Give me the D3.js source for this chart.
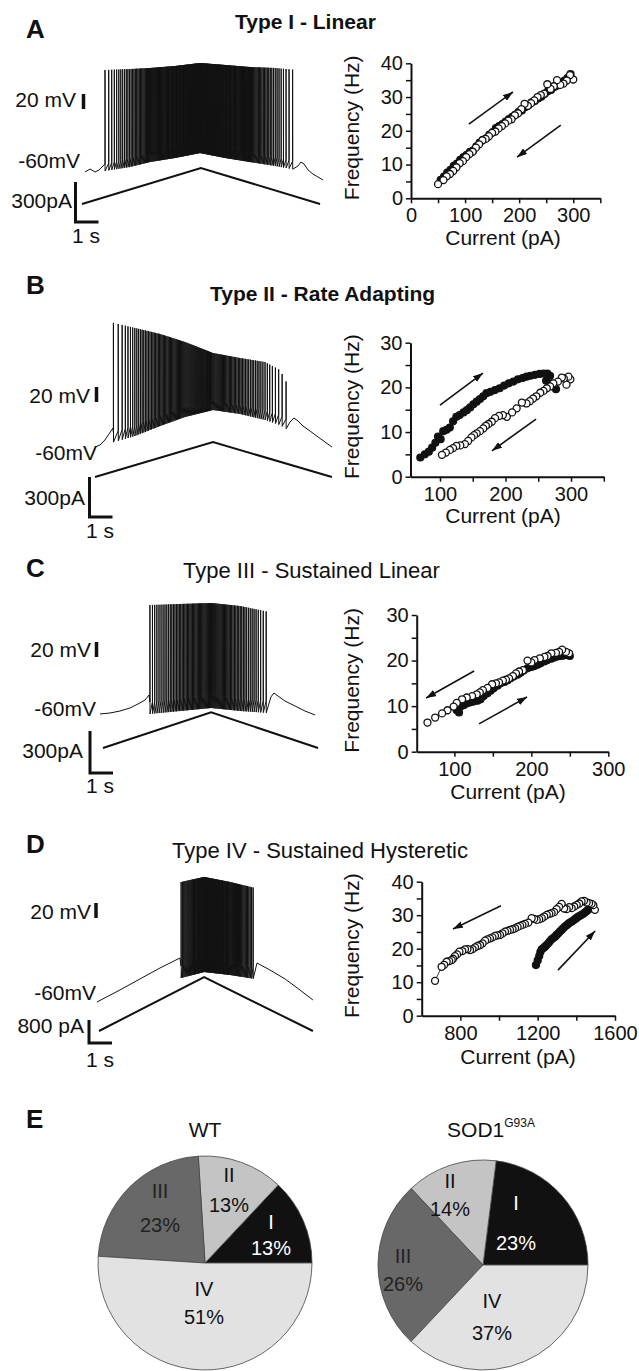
<!DOCTYPE html>
<html>
<head>
<meta charset="utf-8">
<script src="https://cdn.jsdelivr.net/npm/d3@7"></script>
<style>
body { margin: 0; background: #fff; }
svg { display: block; font-family: "Liberation Sans", Arial, sans-serif; }
</style>
</head>
<body>
<script>
var width = 639,
    height = 1371;

// F-I points [current pA, frequency Hz]; rise = ascending ramp (filled), fall = descending ramp (open)
var fiRiseA = [[55,5.5],[61,6.4],[67,7.6],[73,8.4],[79,9.6],[85,10.3],[91,11.4],[97,12.2],[103,12.9],[109,13.8],[115,14.2],[121,15.4],[127,16.5],[133,17.3],[139,17.8],[145,18.9],[151,19.6],[157,20.8],[163,21.4],[169,22.0],[175,22.7],[181,23.5],[187,24.1],[193,24.8],[199,25.6],[205,26.0],[211,27.0],[217,27.5],[223,28.4],[229,28.8],[235,29.6],[241,30.1],[247,30.9],[253,31.7],[259,32.1],[265,33.0],[271,33.4],[277,34.2],[283,34.8],[289,35.6],[295,36.8]];
var fiFallA = [[300,35.2],[294,36.5],[288,34.9],[282,34.0],[276,33.6],[270,35.0],[264,33.2],[258,32.4],[252,33.8],[246,31.0],[240,30.6],[234,30.0],[228,29.0],[222,28.2],[216,27.4],[210,28.0],[204,26.4],[198,25.2],[192,24.6],[186,23.4],[180,23.0],[174,22.2],[168,21.4],[162,20.7],[156,19.8],[150,19.4],[144,18.4],[138,17.6],[132,17.2],[126,16.0],[120,15.0],[114,13.8],[108,13.1],[102,12.2],[96,11.0],[90,10.4],[84,9.2],[78,8.1],[72,7.2],[66,6.5],[60,5.4],[50,4.2]];

var fiRiseB = [[70,4.3],[77,5.0],[83,5.6],[88,6.5],[93,7.6],[97,9.0],[101,8.4],[105,10.2],[110,10.5],[115,11.0],[120,12.4],[125,13.4],[130,13.8],[136,14.4],[141,14.9],[146,15.5],[151,16.2],[156,16.8],[161,17.4],[166,18.0],[171,18.7],[177,19.0],[184,19.4],[191,19.8],[198,20.4],[205,20.9],[212,21.3],[219,21.8],[226,22.1],[232,22.4],[238,22.6],[245,22.8],[252,23.0],[258,23.1],[264,23.1],[268,22.6],[262,21.5],[270,20.9],[274,20.3],[277,19.6]];
var fiFallB = [[299,21.8],[296,22.4],[293,20.6],[289,22.0],[286,22.2],[280,21.3],[273,20.9],[268,20.2],[263,19.8],[258,19.2],[253,18.8],[247,18.0],[242,17.5],[237,16.9],[232,16.4],[225,16.6],[217,15.3],[210,14.4],[202,13.4],[196,13.8],[190,13.6],[184,13.1],[179,12.3],[174,11.8],[170,11.4],[166,10.8],[161,10.2],[156,9.7],[152,9.3],[148,8.8],[143,8.0],[138,7.3],[131,7.0],[125,6.9],[120,6.4],[115,6.0],[109,5.4],[103,4.9]];

var fiRiseC = [[103,9.1],[106,8.6],[108,9.9],[112,10.2],[116,10.6],[120,10.8],[125,11.0],[130,11.2],[134,11.5],[138,12.2],[143,12.8],[147,13.4],[151,13.9],[156,14.5],[160,15.0],[165,15.3],[169,15.7],[173,16.1],[177,16.5],[182,16.9],[186,17.3],[190,17.8],[195,18.3],[200,18.6],[204,18.8],[208,19.1],[212,19.4],[217,19.8],[221,20.1],[226,20.4],[230,20.7],[234,20.9],[238,21.0],[242,21.1],[247,21.2],[250,21.0]];
var fiFallC = [[249,21.6],[245,21.9],[240,22.4],[236,21.9],[232,21.7],[226,21.6],[221,21.0],[217,20.8],[211,20.5],[204,20.1],[200,19.6],[195,20.0],[189,17.9],[184,17.6],[180,17.2],[176,16.6],[171,16.1],[167,15.8],[163,15.6],[158,15.2],[154,15.0],[149,14.8],[143,14.0],[137,13.5],[133,13.0],[129,12.6],[123,12.2],[116,11.9],[110,11.5],[103,10.7],[99,9.9],[91,9.1],[84,8.4],[75,7.5],[65,6.4]];

var fiRiseD = [[1191,15.1],[1200,16.5],[1208,17.8],[1214,19.0],[1221,19.8],[1230,20.2],[1238,20.6],[1246,21.1],[1255,21.6],[1263,22.2],[1272,22.8],[1281,23.2],[1290,23.6],[1298,24.1],[1307,24.6],[1315,25.1],[1324,25.6],[1332,26.1],[1341,26.6],[1350,27.0],[1358,27.4],[1367,27.8],[1376,28.1],[1384,28.4],[1393,28.8],[1402,29.2],[1410,29.6],[1419,29.8],[1427,30.1],[1436,30.4],[1444,30.8],[1453,31.2],[1462,31.6],[1468,32.0],[1474,32.4]];
var fiFallD = [[1496,31.6],[1488,33.0],[1479,33.4],[1466,33.6],[1453,33.8],[1440,34.3],[1427,34.1],[1415,33.5],[1402,33.1],[1389,32.6],[1376,32.1],[1363,32.4],[1350,31.8],[1337,32.0],[1324,33.4],[1311,32.5],[1298,31.8],[1285,30.9],[1272,30.6],[1260,30.4],[1247,30.1],[1234,29.6],[1221,29.1],[1208,28.8],[1195,28.6],[1182,28.9],[1169,29.1],[1152,27.8],[1134,27.4],[1121,27.1],[1109,26.8],[1096,26.5],[1083,26.1],[1070,25.8],[1057,25.6],[1044,25.3],[1031,25.1],[1018,24.6],[1005,24.1],[992,24.0],[979,23.8],[966,23.4],[953,23.1],[940,22.8],[928,22.4],[915,21.6],[902,21.1],[889,20.8],[876,20.4],[863,19.9],[850,19.6],[837,19.9],[824,19.8],[810,19.3],[795,19.1],[783,18.3],[772,17.8],[762,17.0],[755,16.6],[742,16.3],[729,16.1],[716,15.2],[703,14.6],[669,10.4]];

// arrows on the F-I plots, [[from], [to]] in [pA, Hz]
var arrowsA = [[[107,22],[188.5,31.5]], [[277,21.7],[196,12.2]]];
var arrowsB = [[[100,16],[165.6,23.2]], [[246.6,12.9],[179.4,5.8]]];
var arrowsC = [[[125.6,17.7],[63.2,11.8]], [[132,6.1],[194.4,12]]];
var arrowsD = [[[1010,32.8],[762,25.9]], [[1305,13.6],[1497,25.3]]];

// voltage traces: envelopes (time s, mV)
var envTimeA = [1.0, 2.09, 2.96, 4.04, 5.13, 6.22, 7.30, 8.39, 9.35];
var envPeakA = [76, 77.3, 78.7, 81.3, 85.3, 82.7, 80, 78.7, 76];
var envTroughA = [-58.7, -53.3, -46.7, -41.3, -34.7, -41.3, -46.7, -52, -57.3];
var envThrA = [-49.3, -41.3, -33.3, -25.3, -17.3, -25.3, -33.3, -40, -46.7];
var preA = [[0.13,-60],[0.35,-56],[0.57,-60],[0.74,-57.3],[0.91,-52]];
var postA = [[9.39,-52],[9.52,-46.7],[9.65,-49.3],[9.83,-57.3],[10.04,-62.7],[10.26,-66.7],[10.48,-70.7]];
var spikeWindowA = [1.0, 5.17, 9.35];
var rampTimeA = [0, 5.17, 10.35], rampCurrentA = [0, 270, 0];

var envTimeB = [0.83, 1.74, 2.83, 3.91, 5.13, 6.30, 7.39, 8.04, 8.39];
var envPeakB = [105.3, 98.7, 90.7, 80, 65.3, 58.7, 53.3, 42.7, 22.7];
var envTroughB = [-53.3, -45.3, -32, -20, -10.7, -16, -24, -30.7, -37.3];
var envThrB = [-40, -30.7, -17.3, -5.3, 2.7, -2.7, -10.7, -17.3, -24];
var preB = [[0,-60],[0.22,-57.3],[0.43,-50.7],[0.61,-42.7],[0.78,-34.7]];
var postB = [[8.48,-26.7],[8.65,-21.3],[8.83,-25.3],[9.04,-32],[9.35,-38.7],[9.70,-46.7],[10.0,-53.3],[10.3,-60]];
var spikeWindowB = [0.8, 5.13, 8.39];
var rampTimeB = [0, 5.13, 10.3], rampCurrentB = [0, 262, 0];

var envTimeC = [2.04, 3.35, 4.70, 5.96, 7.22];
var envPeakC = [85.3, 86.7, 88, 84, 76];
var envTroughC = [-60, -56, -52, -56, -58.7];
var envThrC = [-44, -38.7, -34.7, -38.7, -42.7];
var preC = [[-0.13,-60],[0.3,-58.7],[0.74,-56],[1.17,-52],[1.52,-46.7],[1.83,-41.3],[2.0,-34.7]];
var postC = [[7.3,-37.3],[7.43,-32],[7.61,-36],[7.91,-42.7],[8.35,-49.3],[8.78,-56],[9.22,-61.3]];
var spikeWindowC = [2.04, 4.70, 7.22];
var rampTimeC = [0, 4.7, 9.35], rampCurrentC = [0, 255, 0];

var envTimeD = [3.57, 4.57, 5.70, 6.78];
var envPeakD = [100, 106.7, 100, 92];
var envTroughD = [-28, -20, -24, -29.3];
var envThrD = [-12, -1.3, -6.7, -13.3];
var preD = [[-0.09,-60],[0.91,-44],[1.78,-29.3],[2.65,-14.7],[3.52,-1.3]];
var postD = [[6.87,-8],[7.43,-17.3],[8.09,-29.3],[8.74,-44],[9.3,-57.3]];
var spikeWindowD = [3.57, 4.57, 6.78];
var rampTimeD = [0, 4.57, 9.3], rampCurrentD = [0, 1875, 0];

// pies (E)
var typeNames = ["I", "II", "III", "IV"];
var wtPercent = [13, 13, 23, 51];
var sodPercent = [23, 14, 26, 37];
var typeColors = ["#111111", "#c4c4c4", "#686868", "#e2e2e2"];
var typeText = ["#ffffff", "#111111", "#222222", "#111111"];

var svg = d3.select("body").append("svg")
    .attr("width", width)
    .attr("height", height);

svg.append("defs").append("marker")
    .attr("id", "head")
    .attr("viewBox", "0 0 10 7")
    .attr("refX", 10).attr("refY", 3.5)
    .attr("markerWidth", 10).attr("markerHeight", 7)
    .attr("markerUnits", "userSpaceOnUse")
    .attr("orient", "auto")
  .append("path")
    .attr("d", "M0,0L10,3.5L0,7z")
    .attr("fill", "#111");

var panels = [
  { letter: "A", letterY: 38, title: "Type I - Linear", titleX: 235, titleY: 29, bold: true, titleSize: 21,
    x0: 82, restY: 172, rampY: 204, barPA: 300, barPx: 40, mvBar: [83.5, 94], lBar: [75.5, 222],
    labels: [["20 mV", 76, 107, "end"], ["-60mV", 80, 168, "end"], ["300pA", 72, 208, "end"], ["1 s", 86, 243, "middle"]],
    env: [envTimeA, envPeakA, envTroughA, envThrA], pre: preA, post: postA, win: spikeWindowA,
    ramp: d3.zip(rampTimeA, rampCurrentA),
    rise: fiRiseA, fall: fiFallA, arrows: arrowsA,
    xDomain: [0, 350], xRange: [411, 600.3], yDomain: [0, 40], yRange: [198.3, 63.3],
    xTicks: d3.range(0, 351, 50), xLabels: [0, 100, 200, 300], yTicks: d3.range(0, 41, 5),
    xTitle: [503, 245] },
  { letter: "B", letterY: 294, title: "Type II - Rate Adapting", titleX: 210, titleY: 301, bold: true, titleSize: 21,
    x0: 95, restY: 447, rampY: 477, barPA: 300, barPx: 40, mvBar: [96.5, 387], lBar: [89.5, 517],
    labels: [["20 mV", 90, 403, "end"], ["-60mV", 97, 460, "end"], ["300pA", 85, 505, "end"], ["1 s", 100, 538, "middle"]],
    env: [envTimeB, envPeakB, envTroughB, envThrB], pre: preB, post: postB, win: spikeWindowB,
    ramp: d3.zip(rampTimeB, rampCurrentB),
    rise: fiRiseB, fall: fiFallB, arrows: arrowsB,
    xDomain: [55, 350], xRange: [410.5, 603.8], yDomain: [0, 30], yRange: [476.7, 342.7],
    xTicks: d3.range(100, 351, 50), xLabels: [100, 200, 300], yTicks: d3.range(0, 31, 5),
    xTitle: [503, 523] },
  { letter: "C", letterY: 577, title: "Type III - Sustained Linear", titleX: 183, titleY: 578, bold: false, titleSize: 22,
    x0: 103, restY: 714, rampY: 748, barPA: 300, barPx: 42, mvBar: [96.5, 642], lBar: [90, 773],
    labels: [["20 mV", 91, 657, "end"], ["-60mV", 96, 716, "end"], ["300pA", 83, 758, "end"], ["1 s", 100, 793, "middle"]],
    env: [envTimeC, envPeakC, envTroughC, envThrC], pre: preC, post: postC, win: spikeWindowC,
    ramp: d3.zip(rampTimeC, rampCurrentC),
    rise: fiRiseC, fall: fiFallC, arrows: arrowsC,
    xDomain: [51, 300], xRange: [416.7, 608.3], yDomain: [0, 30], yRange: [751.7, 615],
    xTicks: d3.range(100, 301, 50), xLabels: [100, 200, 300], yTicks: d3.range(0, 31, 5),
    xTitle: [508, 799] },
  { letter: "D", letterY: 853, title: "Type IV - Sustained Hysteretic", titleX: 172, titleY: 858, bold: false, titleSize: 22,
    x0: 99, restY: 1002, rampY: 1031, barPA: 800, barPx: 23, mvBar: [96, 903], lBar: [89, 1043],
    labels: [["20 mV", 91, 919, "end"], ["-60mV", 96, 1000, "end"], ["800 pA", 84, 1033, "end"], ["1 s", 100, 1067, "middle"]],
    env: [envTimeD, envPeakD, envTroughD, envThrD], pre: preD, post: postD, win: spikeWindowD,
    ramp: d3.zip(rampTimeD, rampCurrentD),
    rise: fiRiseD, fall: fiFallD, arrows: arrowsD, joinFall: true,
    xDomain: [600, 1600], xRange: [421.7, 615], yDomain: [0, 40], yRange: [1015.7, 881.7],
    xTicks: d3.range(800, 1601, 200), xLabels: [800, 1200, 1600], yTicks: d3.range(0, 41, 5),
    xTitle: [518, 1064] }
];

// spike times follow the F-I relation along the ramp (one spike each 1/f s)
function spikeTrain(rise, fall, win) {
  var times = [], phase = 1, dt = 0.001;
  [[rise, win[0], win[1], false], [fall, win[1], win[2], true]].forEach(function(seg) {
    var pts = seg[0].slice().sort(function(a, b) { return a[0] - b[0]; });
    var rate = d3.scaleLinear()
        .domain(pts.map(function(d) { return d[0]; }))
        .range(pts.map(function(d) { return d[1]; }));
    var ends = [pts[0][0], pts[pts.length - 1][0]];
    var current = d3.scaleLinear().domain([seg[1], seg[2]]).range(seg[3] ? ends.slice().reverse() : ends);
    for (var t = seg[1]; t < seg[2]; t += dt) {
      if (phase >= 1) { phase -= 1; times.push(t); }
      phase += rate(current(t)) * dt;
    }
  });
  return times;
}

panels.forEach(function(p) {
  var g = svg.append("g");

  g.append("text")
      .attr("x", 26).attr("y", p.letterY)
      .attr("font-size", 26).attr("font-weight", "bold")
      .attr("fill", "#111")
      .text(p.letter);

  g.append("text")
      .attr("x", p.titleX).attr("y", p.titleY)
      .attr("font-size", p.titleSize).attr("font-weight", p.bold ? "bold" : "normal")
      .attr("fill", "#111")
      .text(p.title);

  // ---- voltage trace + current ramp
  var xT = d3.scaleLinear().domain([0, 10]).range([p.x0, p.x0 + 230]);
  var yV = d3.scaleLinear().domain([-60, -40]).range([p.restY, p.restY - 15]);
  var yI = d3.scaleLinear().domain([0, p.barPA]).range([p.rampY, p.rampY - p.barPx]);

  var peak = d3.scaleLinear().domain(p.env[0]).range(p.env[1]);
  var trough = d3.scaleLinear().domain(p.env[0]).range(p.env[2]);
  var thr = d3.scaleLinear().domain(p.env[0]).range(p.env[3]);

  var pts = p.pre.slice();
  spikeTrain(p.rise, p.fall, p.win).forEach(function(t) {
    pts.push([t, thr(t)], [t + 0.0004, peak(t)], [t + 0.004, trough(t)]);
  });
  pts = pts.concat(p.post);

  var vLine = d3.line().x(function(d) { return xT(d[0]); }).y(function(d) { return yV(d[1]); });
  g.append("path")
      .attr("d", vLine(pts))
      .attr("fill", "none")
      .attr("stroke", "#111")
      .attr("stroke-width", 1)
      .attr("stroke-linejoin", "bevel");

  var iLine = d3.line().x(function(d) { return xT(d[0]); }).y(function(d) { return yI(d[1]); });
  g.append("path")
      .attr("d", iLine(p.ramp))
      .attr("fill", "none")
      .attr("stroke", "#111")
      .attr("stroke-width", 2);

  // scale bars
  g.append("line")
      .attr("x1", p.mvBar[0]).attr("x2", p.mvBar[0])
      .attr("y1", p.mvBar[1]).attr("y2", p.mvBar[1] + (yV(-60) - yV(-40)))
      .attr("stroke", "#111").attr("stroke-width", 3.5);

  g.append("path")
      .attr("d", "M" + p.lBar[0] + "," + (p.lBar[1] - (yI(0) - yI(p.barPA))) +
                 "V" + p.lBar[1] + "H" + (p.lBar[0] + xT(1) - xT(0)))
      .attr("fill", "none")
      .attr("stroke", "#111").attr("stroke-width", 3);

  p.labels.forEach(function(l) {
    g.append("text")
        .attr("x", l[1]).attr("y", l[2])
        .attr("text-anchor", l[3])
        .attr("font-size", 21)
        .attr("fill", "#111")
        .text(l[0]);
  });

  // ---- F-I plot
  var x = d3.scaleLinear().domain(p.xDomain).range(p.xRange);
  var y = d3.scaleLinear().domain(p.yDomain).range(p.yRange);

  var xAxis = g.append("g")
      .attr("transform", "translate(0," + p.yRange[0] + ")")
      .call(d3.axisBottom(x)
        .tickValues(p.xTicks)
        .tickFormat(function(d) { return p.xLabels.indexOf(d) >= 0 ? d : ""; })
        .tickSize(5).tickSizeOuter(0).tickPadding(5));

  var yAxis = g.append("g")
      .attr("transform", "translate(" + p.xRange[0] + ",0)")
      .call(d3.axisLeft(y)
        .tickValues(p.yTicks)
        .tickFormat(function(d) { return d % 10 === 0 ? d : ""; })
        .tickSize(5).tickSizeOuter(0).tickPadding(3));

  [xAxis, yAxis].forEach(function(a) {
    a.attr("font-size", 20).attr("font-family", null);
    a.select(".domain").attr("stroke", "#111").attr("stroke-width", 2);
    a.selectAll(".tick line").attr("stroke", "#111").attr("stroke-width", 1.5);
    a.selectAll(".tick text").attr("fill", "#111");
  });

  g.append("text")
      .attr("x", p.xTitle[0]).attr("y", p.xTitle[1])
      .attr("text-anchor", "middle")
      .attr("font-size", 21)
      .attr("fill", "#111")
      .text("Current (pA)");

  g.append("text")
      .attr("transform", "translate(359," + ((p.yRange[0] + p.yRange[1]) / 2 - 3) + ") rotate(-90)")
      .attr("text-anchor", "middle")
      .attr("font-size", 21)
      .attr("fill", "#111")
      .text("Frequency (Hz)");

  if (p.joinFall) {
    var sorted = p.fall.slice().sort(function(a, b) { return a[0] - b[0]; });
    g.append("path")
        .attr("d", d3.line().x(function(d) { return x(d[0]); }).y(function(d) { return y(d[1]); })(sorted))
        .attr("fill", "none")
        .attr("stroke", "#111")
        .attr("stroke-width", 0.8);
  }

  g.append("g").selectAll("circle")
      .data(p.rise).enter()
      .append("circle")
      .attr("cx", function(d) { return x(d[0]); })
      .attr("cy", function(d) { return y(d[1]); })
      .attr("r", 3.5)
      .attr("fill", "#111")
      .attr("stroke", "#111")
      .attr("stroke-width", 1.2);

  g.append("g").selectAll("circle")
      .data(p.fall).enter()
      .append("circle")
      .attr("cx", function(d) { return x(d[0]); })
      .attr("cy", function(d) { return y(d[1]); })
      .attr("r", 3.5)
      .attr("fill", "#fff")
      .attr("stroke", "#111")
      .attr("stroke-width", 1.3);

  g.append("g").selectAll("line")
      .data(p.arrows).enter()
      .append("line")
      .attr("x1", function(d) { return x(d[0][0]); })
      .attr("y1", function(d) { return y(d[0][1]); })
      .attr("x2", function(d) { return x(d[1][0]); })
      .attr("y2", function(d) { return y(d[1][1]); })
      .attr("stroke", "#111")
      .attr("stroke-width", 1.6)
      .attr("marker-end", "url(#head)");
});

// ---- E: pies
svg.append("text")
    .attr("x", 26).attr("y", 1128)
    .attr("font-size", 26).attr("font-weight", "bold")
    .attr("fill", "#111")
    .text("E");

var pie = d3.pie()
    .sort(null)
    .startAngle(Math.PI / 2)
    .endAngle(Math.PI / 2 - 2 * Math.PI);

// label block offsets from the pie centre and line gap, per type
function drawPie(values, cx, cy, r, labelPos, labelGap) {
  var g = svg.append("g").attr("transform", "translate(" + cx + "," + cy + ")");
  var arc = d3.arc().innerRadius(0).outerRadius(r);
  var slices = pie(values);

  g.selectAll("path")
      .data(slices).enter()
      .append("path")
      .attr("d", arc)
      .attr("fill", function(d, i) { return typeColors[i]; })
      .attr("stroke", "#444")
      .attr("stroke-width", 0.8);

  var lab = g.selectAll("text.lab")
      .data(slices).enter()
      .append("text")
      .attr("class", "lab")
      .attr("text-anchor", "middle")
      .attr("font-size", 20)
      .attr("fill", function(d, i) { return typeText[i]; })
      .attr("transform", function(d, i) { return "translate(" + labelPos[i] + ")"; });
  lab.append("tspan")
      .attr("x", 0)
      .attr("y", function(d, i) { return 7 - labelGap[i] / 2; })
      .text(function(d, i) { return typeNames[i]; });
  lab.append("tspan")
      .attr("x", 0)
      .attr("y", function(d, i) { return 7 + labelGap[i] / 2; })
      .text(function(d) { return d.data + "%"; });
}

drawPie(wtPercent, 205, 1263, 107, [[66, -28], [24, -73], [-45, -55], [-1, 40]], [26, 30, 34, 28]);
drawPie(sodPercent, 483, 1265, 105, [[33, -42], [-33, -70], [-80, 5], [9, 52]], [40, 28, 28, 32]);

svg.append("text")
    .attr("x", 205).attr("y", 1137)
    .attr("text-anchor", "middle")
    .attr("font-size", 21)
    .attr("fill", "#111")
    .text("WT");

var sod = svg.append("text")
    .attr("x", 491).attr("y", 1137)
    .attr("text-anchor", "middle")
    .attr("font-size", 21)
    .attr("fill", "#111");
sod.append("tspan").text("SOD1");
sod.append("tspan").attr("font-size", 12).attr("dy", -10).text("G93A");
</script>
</body>
</html>
